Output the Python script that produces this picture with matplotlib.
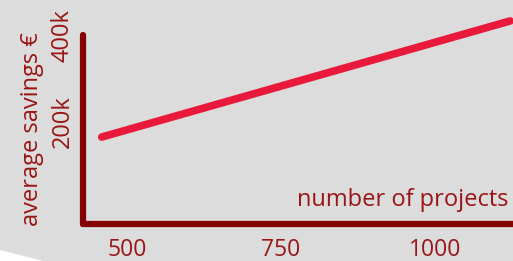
import matplotlib

matplotlib.use("Agg")
import matplotlib.pyplot as plt
from matplotlib.patches import Polygon

plt.rcParams["font.family"] = ["Open Sans", "DejaVu Sans"]

# data
projects = [459, 1122]
savings = [165000, 435000]
xticks = [500, 750, 1000]
xticklabels = ["500", "750", "1000"]
yticks = [200000, 400000]
yticklabels = ["200k", "400k"]

BG = "#dcdcdc"
AXIS = "#850000"
TEXT = "#9a1515"
LINE = "#e8193a"

fig = plt.figure(figsize=(5.13, 2.61), dpi=100, facecolor=BG)
ax = fig.add_axes([83 / 513, 1 - 224 / 261, 1 - 83 / 513, (224 - 35) / 261])
ax.set_facecolor(BG)

ax.plot(projects, savings, color=LINE, lw=5.5, solid_capstyle="round", clip_on=False)

ax.set_xlim(428.6, 1126.6)
ax.set_ylim(-37200, 402300)

for side in ["top", "right"]:
    ax.spines[side].set_visible(False)
for side in ["left", "bottom"]:
    ax.spines[side].set_color(AXIS)
    ax.spines[side].set_linewidth(4.5)
    ax.spines[side].set_capstyle("round")

ax.set_xticks(xticks, xticklabels)
ax.set_yticks(yticks, yticklabels)
ax.tick_params(axis="x", length=0, pad=10, labelsize=16.5, labelcolor=TEXT)
ax.tick_params(axis="y", length=0, pad=6, labelsize=17, labelcolor=TEXT)
for lab in ax.get_yticklabels():
    lab.set_rotation(90)
    lab.set_va("center")

ax.set_ylabel("average savings €", fontsize=17, color=TEXT, labelpad=5)
ax.text(0.99, 0.065, "number of projects", transform=ax.transAxes,
        ha="right", va="bottom", fontsize=17, color=TEXT)

# white cut in the bottom-left corner
fig.patches.append(Polygon([(0, 0), (0, 11 / 261), (43 / 513, 0)],
                           closed=True, transform=fig.transFigure,
                           facecolor="white", edgecolor="none"))

fig.savefig("out.png", dpi=100, facecolor=BG)
